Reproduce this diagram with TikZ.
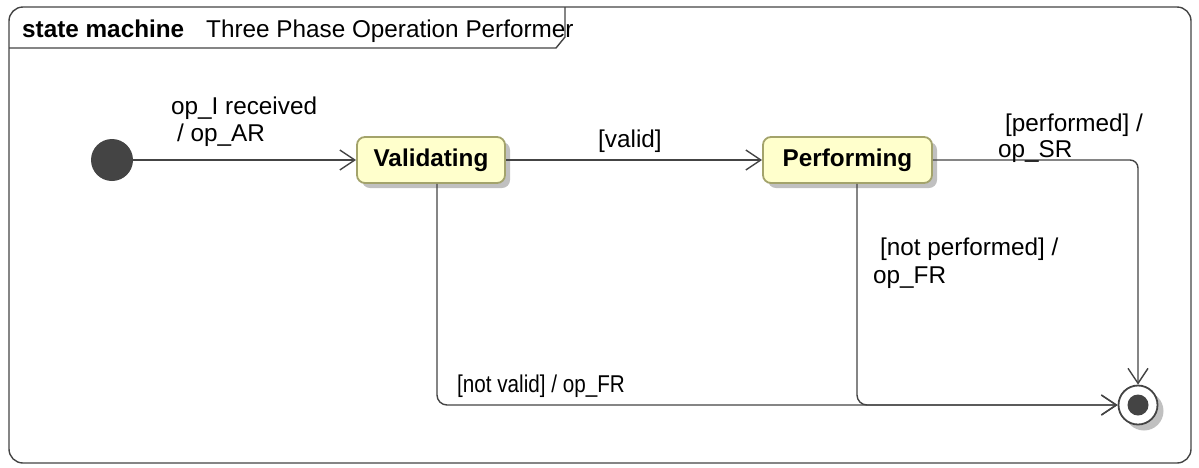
\documentclass[tikz,border=0pt]{standalone}
\usepackage{fontspec}
\setmainfont{Liberation Sans}
\usetikzlibrary{arrows.meta}
\definecolor{linec}{HTML}{444444}
\definecolor{statefill}{HTML}{FFFFCC}
\definecolor{statedraw}{HTML}{A3A36B}
\definecolor{shadowc}{HTML}{C0C0C0}
\begin{document}
\begin{tikzpicture}[x=1pt,y=-1pt,
  every node/.style={font=\fontsize{24.3}{28}\selectfont},
  frameline/.style={draw=linec,line width=1.4pt},
  statebox/.style={rectangle,rounded corners=8pt,fill=statefill,draw=statedraw,line width=1.8pt,
    minimum width=148pt,minimum height=46pt,inner sep=0pt,font=\fontsize{24.3}{28}\selectfont\bfseries,
    preaction={fill=shadowc,draw=none,transform canvas={shift={(5pt,-5pt)}}}},
  initstate/.style={circle,fill=linec,draw=none,minimum size=42pt,inner sep=0pt},
  finalstate/.style={circle,fill=white,draw=linec,line width=1.8pt,minimum size=39pt,inner sep=0pt,
    preaction={fill=shadowc,draw=none,transform canvas={shift={(6pt,-6pt)}}}},
  tr/.style={draw=linec,line width=1.4pt,-{Straight Barb[length=15pt,width=20pt,line width=1.4pt]}},
  lbl/.style={anchor=base west,inner sep=0pt}]
\useasboundingbox (0,0) rectangle (1199,467);
% frame
\draw[frameline,rounded corners=14pt] (9,7) rectangle (1191,463);
\draw[frameline] (9,48) -- (556,48) -- (565,37) -- (565,7);
\node[lbl,font=\fontsize{24.3}{28}\selectfont\bfseries] (hdr1) at (22,37) {state machine};
\node[lbl] (hdr2) at (206,37) {Three Phase Operation Performer};
% states
\node[initstate] (init) at (112,160) {};
\node[statebox,minimum width=148pt] (val) at (431,160) {Validating};
\node[statebox,minimum width=169pt] (perf) at (847.5,160) {Performing};
\node[finalstate] (fin) at (1138,405) {};
\fill[linec] (fin.center) circle (10.5pt);
% transitions
\draw[tr] (init) -- (val);
\draw[tr] (val) -- (perf);
\draw[tr,rounded corners=8pt] (perf.east) -| (fin.north);
\draw[tr,rounded corners=10pt] ([xshift=6pt]val.south) |- (fin.west);
\draw[tr,rounded corners=10pt] ([xshift=9.5pt]perf.south) |- (fin.west);
% labels
\node[lbl] (l1a) at (171,114) {op\_I received};
\node[lbl] (l1b) at (177,141) {/ op\_AR};
\node[lbl] (l2) at (598,147) {[valid]};
\node[lbl] (l3a) at (1005,131) {[performed] /};
\node[lbl] (l3b) at (998,157) {op\_SR};
\node[lbl] (l4a) at (880,255) {[not performed] /};
\node[lbl] (l4b) at (873,283) {op\_FR};
\node[lbl] (l5) at (457,392) {\scalebox{0.85}[1]{[not valid] / op\_FR}};
\end{tikzpicture}
\end{document}
